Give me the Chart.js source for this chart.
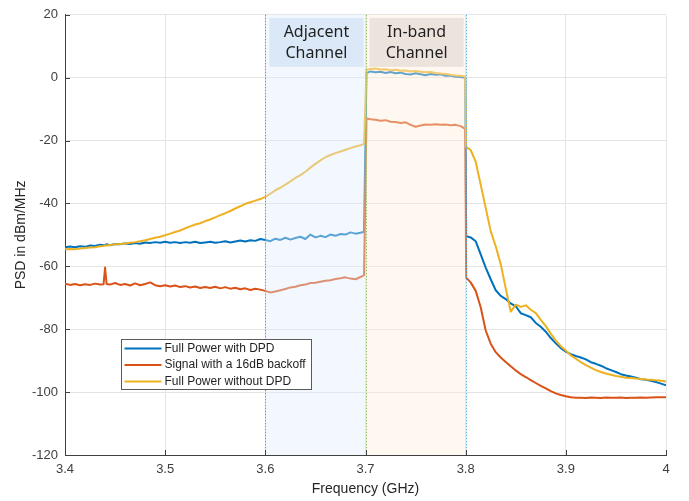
<!DOCTYPE html>
<html>
<head>
<meta charset="utf-8">
<title>PSD</title>
<script src="https://cdn.jsdelivr.net/npm/chart.js@4.4.1/dist/chart.umd.min.js"></script>
<style>
  body { margin: 0; background: #fff; }
  canvas { display: block; }
</style>
</head>
<body>
<canvas id="psdChart" width="689" height="501"></canvas>
<script>
// frequency axis (GHz), shared by all three traces
const freq = [
  3.400, 3.405, 3.410, 3.415, 3.420, 3.425, 3.430, 3.435, 3.4385, 3.440, 3.4415, 3.445, 3.450, 3.455, 3.460, 3.465, 3.470, 3.475, 3.480, 3.485, 3.490, 3.495,
  3.500, 3.505, 3.510, 3.515, 3.520, 3.525, 3.530, 3.535, 3.540, 3.545, 3.550, 3.555, 3.560, 3.565, 3.570, 3.575, 3.580, 3.585, 3.590, 3.595,
  3.600, 3.605, 3.610, 3.615, 3.620, 3.625, 3.630, 3.635, 3.640, 3.645, 3.650, 3.655, 3.660, 3.665, 3.670, 3.675, 3.680, 3.685, 3.690, 3.695, 3.6985,
  3.701, 3.705, 3.710, 3.715, 3.720, 3.725, 3.730, 3.735, 3.740, 3.745, 3.750, 3.755, 3.760, 3.765, 3.770, 3.775, 3.780, 3.785, 3.790, 3.795, 3.7995,
  3.8005, 3.805, 3.810, 3.815, 3.820, 3.825, 3.830, 3.835, 3.840, 3.845, 3.850, 3.855, 3.860, 3.865, 3.870, 3.875, 3.880, 3.885, 3.890, 3.895, 3.900,
  3.905, 3.910, 3.915, 3.920, 3.925, 3.930, 3.935, 3.940, 3.945, 3.950, 3.955, 3.960, 3.965, 3.970, 3.975, 3.980, 3.985, 3.990, 3.995, 4.000
];

// PSD in dBm/MHz
const psdDpd = [
  -53.9, -53.7, -53.9, -53.6, -53.8, -53.4, -53.5, -53.1, -53.3, -53.2, -53.0, -53.3, -52.9, -53.0, -52.7, -52.9, -52.6, -52.8, -52.4, -52.6, -52.3, -52.5,
  -52.2, -52.5, -52.3, -52.6, -52.3, -52.5, -52.2, -52.6, -52.4, -52.2, -52.5, -52.3, -52.0, -52.4, -52.1, -51.8, -52.1, -51.7, -51.9, -51.3,
  -51.6, -52.0, -51.2, -51.6, -50.9, -51.5, -51.0, -50.6, -51.3, -49.9, -50.8, -50.3, -50.7, -49.9, -50.3, -49.7, -49.9, -49.2, -49.6, -49.3, -49.0,
  1.5, 2.0, 1.7, 1.9, 1.5, 1.8, 1.4, 1.6, 1.2, 1.0, 1.4, 1.1, 0.8, 1.2, 0.9, 1.1, 0.6, 0.7, 0.3, 0.2, 0.0,
  -50.4, -50.8, -52.0, -56.2, -60.4, -64.1, -67.6, -69.4, -70.4, -71.8, -72.7, -74.9, -75.5, -76.2, -78.0, -79.2, -80.8, -82.8, -84.5, -86.0, -87.1,
  -87.9, -88.5, -89.0, -89.6, -90.5, -91.0, -91.6, -92.4, -93.0, -93.6, -94.3, -94.7, -95.0, -95.4, -95.9, -96.1, -96.4, -96.8, -97.3, -97.8
];
const psdBackoff = [
  -65.5, -65.9, -65.6, -66.0, -65.7, -65.9, -65.5, -65.8, -65.7, -60.4, -65.6, -65.8, -65.3, -65.9, -65.6, -66.1, -65.4, -66.0, -65.6, -65.1, -66.0, -66.3,
  -66.0, -66.4, -66.1, -66.6, -66.3, -66.7, -66.4, -66.9, -66.6, -66.9, -66.5, -67.0, -66.6, -67.1, -66.8, -67.3, -67.0, -67.5, -67.1, -67.4,
  -67.8, -68.3, -68.0, -67.6, -67.2, -66.7, -66.5, -66.0, -65.8, -65.3, -65.2, -64.9, -64.6, -64.4, -64.0, -63.8, -63.5, -63.9, -64.1, -63.4, -62.8,
  -13.0, -13.2, -13.4, -13.7, -13.5, -14.0, -14.1, -14.4, -14.2, -15.0, -15.6, -15.2, -14.9, -15.0, -14.8, -15.0, -14.9, -15.1, -15.0, -15.4, -16.3,
  -63.6, -65.1, -67.8, -73.0, -80.4, -84.6, -87.3, -89.0, -90.4, -91.8, -93.1, -94.3, -95.2, -96.2, -97.1, -98.0, -98.8, -99.7, -100.4, -100.9, -101.3,
  -101.6, -101.8, -101.8, -101.9, -101.7, -101.8, -101.9, -101.7, -101.8, -101.8, -101.7, -101.9, -101.8, -101.8, -101.7, -101.8, -101.7, -101.6, -101.6, -101.6
];
const psdNoDpd = [
  -54.6, -54.5, -54.6, -54.3, -54.2, -54.0, -53.9, -53.6, -53.5, -53.4, -53.4, -53.2, -53.0, -52.9, -52.7, -52.5, -52.3, -52.0, -51.7, -51.3, -50.9, -50.6,
  -50.1, -49.6, -49.1, -48.6, -47.9, -47.3, -46.7, -46.3, -45.6, -45.1, -44.4, -43.7, -43.1, -42.4, -41.6, -40.9, -40.1, -39.6, -39.1, -38.6,
  -37.9, -36.9, -35.8, -35.0, -34.0, -33.0, -31.9, -31.0, -29.9, -28.6, -27.4, -26.3, -25.3, -24.6, -24.0, -23.5, -22.9, -22.4, -21.9, -21.5, -21.0,
  2.5, 2.8, 2.9, 2.6, 2.7, 2.4, 2.5, 2.2, 2.3, 2.0, 2.1, 1.9, 1.7, 1.8, 1.5, 1.3, 1.2, 0.9, 0.7, 0.6, 0.4,
  -22.0, -23.0, -26.7, -34.0, -41.4, -48.8, -53.6, -59.3, -67.0, -74.4, -72.2, -72.9, -72.4, -73.8, -74.9, -77.0, -79.0, -81.4, -83.6, -85.4, -86.8,
  -88.3, -89.4, -90.5, -91.4, -92.2, -93.0, -93.6, -94.1, -94.5, -94.9, -95.1, -95.4, -95.5, -95.7, -95.8, -96.0, -96.1, -96.2, -96.4, -96.6
];

const xTicks = [3.4, 3.5, 3.6, 3.7, 3.8, 3.9, 4];
const yTicks = [-120, -100, -80, -60, -40, -20, 0, 20];

const seriesNames = ['Full Power with DPD', 'Signal with a 16dB backoff', 'Full Power without DPD'];
const seriesColors = ['#0072BD', '#D95319', '#EDB120'];

// channel bands: edges and two-line captions
const bandEdges = [3.6, 3.7, 3.8];
const bandNames = [['Adjacent', 'Channel'], ['In-band', 'Channel']];
const bandFills = ['rgba(225,237,252,0.4)', 'rgba(252,237,220,0.4)'];
const bandLabelFills = ['#dae8f7', '#ede3dd'];
const edgeColors = ['#a07cc8', '#93c162', '#62b6e6'];

Chart.defaults.font.family = '"Liberation Sans", Arial, sans-serif';

function toPoints(ys) {
  return freq.map((f, i) => ({ x: f, y: ys[i] }));
}

function lineSet(i, ys, order) {
  return {
    label: seriesNames[i],
    data: toPoints(ys),
    borderColor: seriesColors[i],
    borderWidth: 2,
    borderJoinStyle: 'round',
    pointRadius: 0,
    tension: 0,
    order: order
  };
}

// shaded bands, dotted edges and captions, drawn over the traces
const bandPlugin = {
  id: 'bands',
  afterDatasetsDraw(chart) {
    const { ctx, chartArea: a, scales: { x } } = chart;
    ctx.save();
    bandFills.forEach((c, i) => {
      const x0 = x.getPixelForValue(bandEdges[i]);
      const x1 = x.getPixelForValue(bandEdges[i + 1]);
      ctx.fillStyle = c;
      ctx.fillRect(x0, a.top, x1 - x0, a.bottom - a.top);
    });

    ctx.lineWidth = 1;
    ctx.setLineDash([1.5, 1.5]);
    bandEdges.forEach((f, i) => {
      const px = Math.round(x.getPixelForValue(f)) + 0.5;
      ctx.strokeStyle = edgeColors[i];
      ctx.beginPath();
      ctx.moveTo(px, a.top);
      ctx.lineTo(px, a.bottom);
      ctx.stroke();
    });
    ctx.setLineDash([]);

    ctx.font = '16px "Noto Sans"';
    ctx.textAlign = 'center';
    ctx.textBaseline = 'middle';
    bandNames.forEach((lines, i) => {
      const x0 = x.getPixelForValue(bandEdges[i]) + 4;
      const x1 = x.getPixelForValue(bandEdges[i + 1]) - 2;
      ctx.fillStyle = bandLabelFills[i];
      ctx.fillRect(x0, a.top + 3, x1 - x0, 49);
      ctx.fillStyle = '#1f1f1f';
      lines.forEach((t, j) => ctx.fillText(t, (x0 + x1) / 2, a.top + 18 + j * 21));
    });
    ctx.restore();
  },

  // inward ticks and the boxed legend
  afterDraw(chart) {
    const { ctx, chartArea: a, scales: { x, y } } = chart;
    ctx.save();
    ctx.strokeStyle = '#404040';
    ctx.lineWidth = 1;
    ctx.beginPath();
    yTicks.forEach(v => {
      const py = Math.round(y.getPixelForValue(v)) + 0.5;
      ctx.moveTo(a.left, py);
      ctx.lineTo(a.left + 5, py);
    });
    xTicks.forEach(v => {
      const px = Math.round(x.getPixelForValue(v)) + 0.5;
      ctx.moveTo(px, a.bottom);
      ctx.lineTo(px, a.bottom - 5);
    });
    ctx.stroke();

    const lx = Math.round(a.left) + 56.5;
    const ly = Math.round(a.top) + 324.5;
    ctx.fillStyle = '#fff';
    ctx.fillRect(lx, ly, 190, 50);
    ctx.strokeStyle = '#5a5a5a';
    ctx.strokeRect(lx, ly, 190, 50);
    ctx.font = '12px "Liberation Sans"';
    ctx.textAlign = 'left';
    ctx.textBaseline = 'middle';
    seriesNames.forEach((name, i) => {
      const ry = ly + 9 + i * 16.5;
      ctx.strokeStyle = seriesColors[i];
      ctx.lineWidth = 2;
      ctx.beginPath();
      ctx.moveTo(lx + 3, ry);
      ctx.lineTo(lx + 40, ry);
      ctx.stroke();
      ctx.fillStyle = '#1f1f1f';
      ctx.fillText(name, lx + 43, ry);
    });
    ctx.restore();
  }
};

const ctx = document.getElementById('psdChart').getContext('2d');
const psdChart = new Chart(ctx, {
  type: 'line',
  data: {
    datasets: [
      lineSet(0, psdDpd, 3),
      lineSet(1, psdBackoff, 2),
      lineSet(2, psdNoDpd, 1)
    ]
  },
  options: {
    responsive: false,
    animation: false,
    layout: { padding: { top: 12, right: 23, bottom: 0, left: 0 } },
    plugins: {
      legend: { display: false },
      tooltip: { enabled: false }
    },
    scales: {
      x: {
        type: 'linear',
        min: 3.4,
        max: 4,
        afterBuildTicks: s => { s.ticks = xTicks.map(v => ({ value: v })); },
        afterFit: s => { s.height = 46; },
        ticks: {
          autoSkip: false,
          maxRotation: 0,
          padding: 7,
          color: '#404040',
          font: { size: 13 },
          callback: v => String(v)
        },
        grid: { color: '#e4e4e4', drawTicks: false },
        border: { color: '#404040', width: 1 },
        title: {
          display: true,
          text: 'Frequency (GHz)',
          color: '#262626',
          font: { size: 14 },
          padding: { top: 0, bottom: 3 }
        }
      },
      y: {
        min: -120,
        max: 20,
        afterBuildTicks: s => { s.ticks = yTicks.map(v => ({ value: v })); },
        afterFit: s => { s.width = 65; },
        ticks: {
          padding: 7,
          color: '#404040',
          font: { size: 13 },
          callback: v => String(v)
        },
        grid: { color: '#e4e4e4', drawTicks: false },
        border: { color: '#404040', width: 1 },
        title: {
          display: true,
          text: 'PSD in dBm/MHz',
          color: '#262626',
          font: { size: 14 },
          padding: { top: 13, bottom: 0 }
        }
      }
    }
  },
  plugins: [bandPlugin]
});
</script>
</body>
</html>
